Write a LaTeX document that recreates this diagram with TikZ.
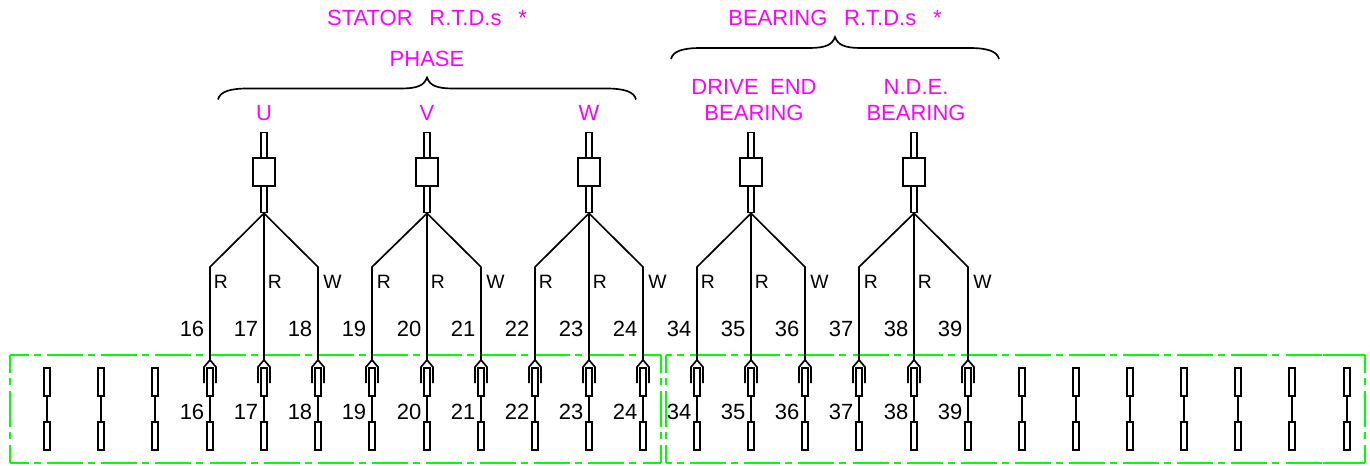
\documentclass[tikz,border=0pt]{standalone}
\usepackage{fontspec}
\setmainfont{Liberation Sans}
\definecolor{rtdtext}{RGB}{255,0,255}
\definecolor{rtdbox}{RGB}{0,255,0}
\tikzset{
    wire/.style={line width=1.25pt, black, line join=miter},
    terminal/.style={draw, line width=1.25pt, fill=white, inner sep=0pt, minimum width=4.6pt, minimum height=21pt},
    stem/.style={draw, line width=1.25pt, fill=white, inner sep=0pt, minimum width=4.6pt, minimum height=60pt},
    head/.style={draw, line width=1.25pt, fill=white, inner sep=0pt, minimum width=16.5pt, minimum height=21pt},
    title/.style={rtdtext, inner sep=0pt, font=\fontsize{16.5pt}{19.5pt}\selectfont, align=center},
    tagno/.style={black, inner sep=0pt, anchor=base east, font=\fontsize{16.5pt}{19pt}\selectfont},
    core/.style={black, inner sep=0pt, anchor=base west, font=\fontsize{14.5pt}{17pt}\selectfont},
    boxline/.style={rtdbox, line width=1.25pt, dash pattern=on 27pt off 3.75pt on 5.25pt off 4.6pt}
}
\newcommand{\rtdbrace}[4]{
    \draw[wire]
    (#1, #4+11) .. controls (#1+2, #4+3) and (#1+12, #4) .. (#1+30, #4)
    -- (#2-27, #4) .. controls (#2-9, #4) and (#2-3, #4-3) .. (#2, #4-11)
    .. controls (#2+3, #4-3) and (#2+9, #4) .. (#2+27, #4)
    -- (#3-30, #4) .. controls (#3-12, #4) and (#3-2, #4+3) .. (#3, #4+11);
}
\begin{document}
\begin{tikzpicture}[x=0.75pt, y=-0.75pt]
    \useasboundingbox (0, 0) rectangle (1370, 466);
    \coordinate (bendlevel) at (0, 267);
    % terminal boxes
    \draw[boxline, dash phase=12.75pt] (10, 355) -- (661, 355);
    \draw[boxline, dash phase=12.75pt] (10, 463) -- (661, 463);
    \draw[boxline, dash phase=13.5pt] (10, 355) -- (10, 463);
    \draw[boxline, dash phase=13.5pt] (661, 355) -- (661, 463);
    \draw[boxline, dash phase=22.5pt] (666, 355) -- (1322, 355);
    \draw[boxline, dash phase=22.5pt] (666, 463) -- (1322, 463);
    \draw[rtdbox, line width=1.25pt] (1323, 355) -- (1365, 355) (1323, 463) -- (1365, 463);
    \draw[boxline, dash phase=13.5pt] (666, 355) -- (666, 463);
    \draw[boxline, dash phase=13.5pt] (1365, 355) -- (1365, 463);
    % spare terminals
    \foreach \px/\tid in {47/a, 101/b, 155/c, 1022/d, 1076/e, 1130/f, 1184/g, 1238/h, 1292/i, 1347/j} {
        \node[terminal] (top\tid) at (\px, 382) {};
        \node[terminal] (bot\tid) at (\px, 436) {};
        \draw[wire] (top\tid) -- (bot\tid);
    }
    % wired terminals
    \foreach \px/\tid in {210/16, 264/17, 318/18, 372/19, 427/20, 481/21, 535/22, 589/23, 643/24,
                          697/34, 751/35, 805/36, 859/37, 914/38, 968/39} {
        \node[terminal] (top\tid) at (\px, 382) {};
        \node[terminal] (bot\tid) at (\px, 436) {};
        \draw[wire] (top\tid) -- (bot\tid);
        \coordinate (fork\tid) at (\px, 360);
        \draw[wire]
        (\px-6, 383) -- (\px-6, 367) -- (fork\tid) -- (\px+6, 367) -- (\px+6, 383);
        \node[tagno] (upper\tid) at (\px-5.5, 337) {\tid};
        \node[tagno] (lower\tid) at (\px-5.5, 419) {\tid};
    }
    % sensors
    \foreach \sx/\sid/\wa/\wb/\wc in {264/U/16/17/18, 427/V/19/20/21, 589/W/22/23/24, 751/D/34/35/36, 914/N/37/38/39} {
        \node[stem] (stem\sid) at (\sx, 172.5) {};
        \node[head] (head\sid) at (\sx, 172) {};
        \draw[wire] (stem\sid.south) -- (fork\wa |- bendlevel) -- (fork\wa);
        \draw[wire] (stem\sid.south) -- (fork\wb);
        \draw[wire] (stem\sid.south) -- (fork\wc |- bendlevel) -- (fork\wc);
        \node[core] (coreA\sid) at (\sx-50.5, 289) {R};
        \node[core] (coreB\sid) at (\sx+3.5, 289) {R};
        \node[core] (coreC\sid) at (\sx+59, 289) {W};
    }
    % titles
    \rtdbrace{218}{427}{636}{88.5}
    \rtdbrace{671}{835}{999}{48}
    \node[title] (stator) at (427, 18) {STATOR\hspace{8pt} R.T.D.s\hspace{8pt} *};
    \node[title] (bearing) at (835, 18) {BEARING\hspace{8pt} R.T.D.s\hspace{8pt} *};
    \node[title] (phase) at (427, 59) {PHASE};
    \node[title] (phaseU) at (264, 113) {U};
    \node[title] (phaseV) at (427, 113) {V};
    \node[title] (phaseW) at (589, 113) {W};
    \node[title] (driveend) at (754, 100) {DRIVE\hspace{4pt} END\\BEARING};
    \node[title] (nde) at (916, 100) {N.D.E.\\BEARING};
\end{tikzpicture}
\end{document}
